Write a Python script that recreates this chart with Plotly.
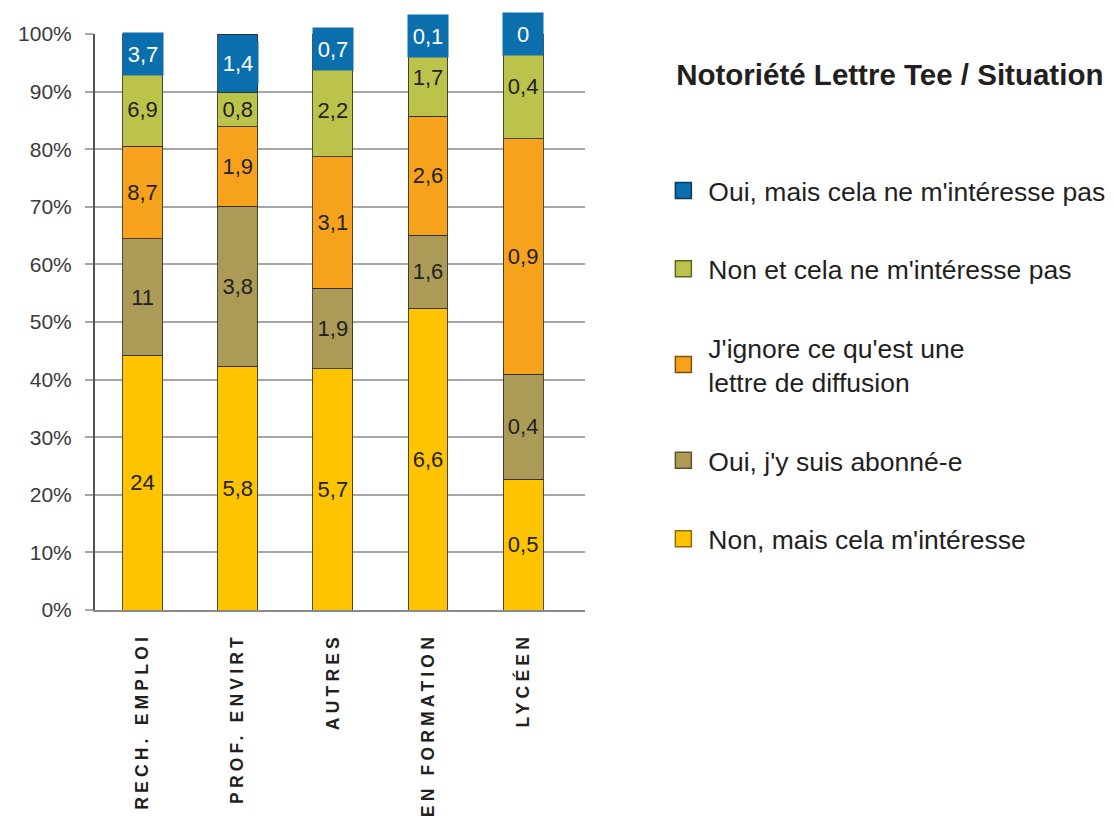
import plotly.graph_objects as go

categories = ["RECH. EMPLOI", "PROF. ENVIRT", "AUTRES", "EN FORMATION", "LYCÉEN"]

# raw counts per series (stacked bottom -> top)
non_interesse = [24, 5.8, 5.7, 6.6, 0.5]        # Non, mais cela m'intéresse
oui_abonne = [11, 3.8, 1.9, 1.6, 0.4]           # Oui, j'y suis abonné-e
ignore_lettre = [8.7, 1.9, 3.1, 2.6, 0.9]       # J'ignore ce qu'est une lettre de diffusion
non_pas_interesse = [6.9, 0.8, 2.2, 1.7, 0.4]   # Non et cela ne m'intéresse pas
oui_pas_interesse = [3.7, 1.4, 0.7, 0.1, 0]     # Oui, mais cela ne m'intéresse pas

y_ticks = [0, 10, 20, 30, 40, 50, 60, 70, 80, 90, 100]
y_tick_labels = [f"{v}%" for v in y_ticks]

series = [
    ("Non, mais cela m'intéresse", non_interesse, "#fec400", "#8a6d10"),
    ("Oui, j'y suis abonné-e", oui_abonne, "#ab9b56", "#5e5428"),
    ("J'ignore ce qu'est une<br>lettre de diffusion", ignore_lettre, "#f7a21d", "#7a5010"),
    ("Non et cela ne m'intéresse pas", non_pas_interesse, "#bcc34a", "#5f6420"),
    ("Oui, mais cela ne m'intéresse pas", oui_pas_interesse, "#0b6fae", "#0a3b5c"),
]


def fmt(v):
    return f"{v:g}".replace(".", ",")


FONT = "Liberation Sans, Arial, sans-serif"
fig = go.Figure()

for idx, (name, vals, col, dark) in enumerate(series):
    is_top = idx == len(series) - 1
    fig.add_trace(go.Bar(
        x=categories, y=vals, name=name,
        marker=dict(color=col, line=dict(color="rgba(50,45,30,0.85)", width=1)),
        text=None if is_top else [fmt(v) for v in vals],
        textposition="inside", insidetextanchor="middle", textangle=0,
        textfont=dict(family=FONT, size=22, color="#222222"),
        showlegend=False, hoverinfo="skip",
    ))

# legend entries (blue first, as in the reference)
for name, vals, col, dark in reversed(series):
    fig.add_trace(go.Scatter(
        x=[None], y=[None], mode="markers", name=name, legendgroup=name,
        marker=dict(symbol="square", size=16, color=col, line=dict(color=dark, width=1.5)),
        showlegend=True,
    ))

# blue top labels as boxes centred on the top segment
totals = [sum(s[1][i] for s in series) for i in range(len(categories))]
for i, cat in enumerate(categories):
    below = sum(s[1][i] for s in series[:-1])
    yc = (below + oui_pas_interesse[i] / 2) / totals[i] * 100
    fig.add_annotation(
        x=cat, y=yc, xref="x", yref="y", text=fmt(oui_pas_interesse[i]),
        showarrow=False, bgcolor="#0b6fae", width=40, height=42, borderpad=0,
        font=dict(family=FONT, size=22, color="white"),
    )

fig.update_layout(
    width=1114, height=825,
    barmode="stack", barnorm="percent", bargap=0.58,
    plot_bgcolor="white", paper_bgcolor="white",
    margin=dict(l=95, r=529, t=34, b=215, autoexpand=False),
    title=dict(text="<b>Notoriété Lettre Tee / Situation</b>", x=0.607, xanchor="left",
               y=0.909, yanchor="middle",
               font=dict(family=FONT, size=29.5, color="#231f20")),
    legend=dict(xref="container", yref="container", x=0.591, xanchor="left",
                y=0.798, yanchor="top",
                font=dict(family=FONT, size=26.5, color="#231f20"),
                traceorder="grouped", tracegroupgap=41, itemwidth=40,
                bgcolor="rgba(0,0,0,0)"),
    xaxis=dict(range=[-0.5, 4.65], showgrid=False, showline=True, linecolor="#8a8a8a",
               linewidth=2, ticks="", tickangle=-90, ticklabelstandoff=14,
               tickfont=dict(family=FONT, size=17.5, color="#231f20", weight="bold")),
    yaxis=dict(range=[0, 100], tickvals=y_ticks, ticktext=y_tick_labels, showgrid=True,
               gridcolor="#a6a6a6", gridwidth=2, zeroline=False,
               showline=True, linecolor="#555555", linewidth=2,
               ticks="outside", ticklen=8, tickcolor="#a6a6a6", tickwidth=2,
               ticklabelstandoff=9,
               tickfont=dict(family=FONT, size=21, color="#3a3a3a")),
)

post = """
document.body.style.margin='0';
document.querySelectorAll('.xtick text').forEach(function(t){t.style.letterSpacing='4.2px';});
"""

fig.write_html("out.html", post_script=post, config={"displayModeBar": False})
